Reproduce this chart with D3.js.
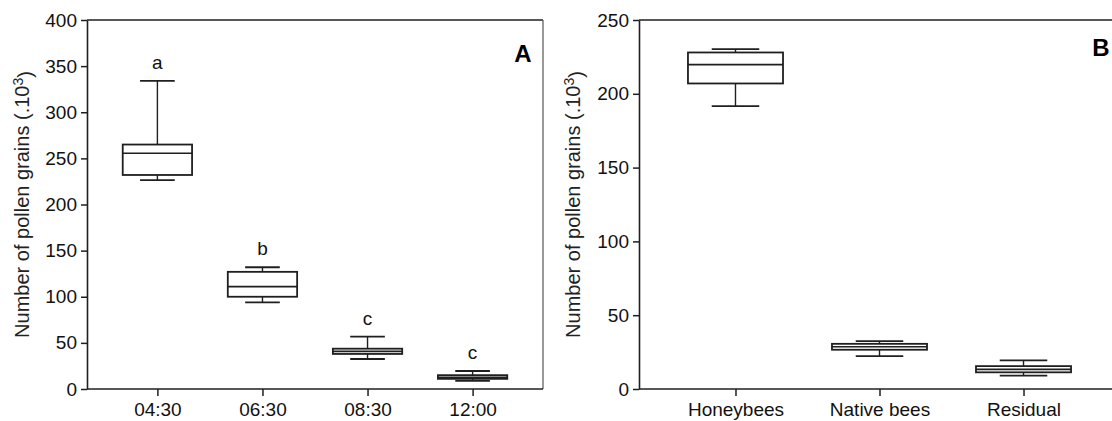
<!DOCTYPE html>
<html>
<head>
<meta charset="utf-8">
<script src="https://cdn.jsdelivr.net/npm/d3@7"></script>
<style>
  body { margin: 0; background: #fff; }
  svg { display: block; font-family: "Liberation Sans", Arial, sans-serif; }
</style>
</head>
<body>
<div class="canvas"></div>
<script>
// panel A - pollen grains by sampling time
const timesA = ["04:30", "06:30", "08:30", "12:00"];
const lowA = [226.5, 94, 32.5, 8.7];
const q1A = [232, 100, 38, 11];
const medA = [255.5, 111, 40.8, 12.6];
const q3A = [265, 127, 43.7, 15];
const highA = [334, 132, 56.7, 19.5];
const lettersA = ["a", "b", "c", "c"];
const ticksA = [0, 50, 100, 150, 200, 250, 300, 350, 400];

// panel B - pollen grains by visitor group
const groupsB = ["Honeybees", "Native bees", "Residual"];
const lowB = [191.7, 22.3, 9];
const q1B = [207, 26.6, 11.3];
const medB = [219.8, 28.6, 13.3];
const q3B = [228, 30.6, 15.5];
const highB = [230.2, 32.4, 19.4];
const ticksB = [0, 50, 100, 150, 200, 250];

const ink = "#1f1f1f";

const svg = d3.select(".canvas").append("svg")
  .attr("width", 1112)
  .attr("height", 421);

function drawPanel(p) {
  const x = d3.scalePoint().domain(p.cats).range([p.x0, p.x1]).padding(0.67);
  const y = d3.scaleLinear().domain([0, p.max]).range([389, 20]);
  const step = x.step();
  const boxW = step * 0.66;
  const capW = step * 0.33;

  const data = p.cats.map((c, i) => ({
    cat: c, low: p.low[i], q1: p.q1[i], med: p.med[i], q3: p.q3[i], high: p.high[i],
    letter: p.letters ? p.letters[i] : null
  }));

  const g = svg.append("g");

  // frame
  g.append("line").attr("x1", p.x0).attr("x2", p.x1).attr("y1", 20).attr("y2", 20)
    .attr("stroke", ink).attr("stroke-width", 1.6);
  g.append("line").attr("x1", p.x1).attr("x2", p.x1).attr("y1", 20).attr("y2", 389)
    .attr("stroke", "#555").attr("stroke-width", 1.2);

  // axes
  const yAxis = g.append("g").attr("transform", `translate(${p.x0},0)`)
    .call(d3.axisLeft(y).tickValues(p.ticks).tickSize(6).tickPadding(4).tickSizeOuter(0));
  const xAxis = g.append("g").attr("transform", "translate(0,389)")
    .call(d3.axisBottom(x).tickSize(7).tickPadding(7).tickSizeOuter(0));
  xAxis.select(".domain").attr("d", `M${p.x0},0H${p.x1}`);
  [yAxis, xAxis].forEach(a => {
    a.select(".domain").attr("stroke", ink).attr("stroke-width", 1.6);
    a.selectAll(".tick line").attr("stroke", ink).attr("stroke-width", 1.5);
    a.selectAll("text").attr("fill", "#111").style("font-size", "19px")
      .style("font-family", "'Liberation Sans', Arial, sans-serif");
  });

  // boxes
  const box = g.selectAll(".box").data(data).enter().append("g").attr("class", "box");
  box.append("line")
    .attr("x1", d => x(d.cat)).attr("x2", d => x(d.cat))
    .attr("y1", d => y(d.high)).attr("y2", d => y(d.q3))
    .attr("stroke", ink).attr("stroke-width", 1.4);
  box.append("line")
    .attr("x1", d => x(d.cat)).attr("x2", d => x(d.cat))
    .attr("y1", d => y(d.q1)).attr("y2", d => y(d.low))
    .attr("stroke", ink).attr("stroke-width", 1.4);
  box.append("line")
    .attr("x1", d => x(d.cat) - capW / 2).attr("x2", d => x(d.cat) + capW / 2)
    .attr("y1", d => y(d.high)).attr("y2", d => y(d.high))
    .attr("stroke", ink).attr("stroke-width", 1.8);
  box.append("line")
    .attr("x1", d => x(d.cat) - capW / 2).attr("x2", d => x(d.cat) + capW / 2)
    .attr("y1", d => y(d.low)).attr("y2", d => y(d.low))
    .attr("stroke", ink).attr("stroke-width", 1.8);
  box.append("rect")
    .attr("x", d => x(d.cat) - boxW / 2)
    .attr("width", boxW)
    .attr("y", d => y(d.q3))
    .attr("height", d => y(d.q1) - y(d.q3))
    .attr("fill", "#fff")
    .attr("stroke", ink).attr("stroke-width", 1.8);
  box.append("line")
    .attr("x1", d => x(d.cat) - boxW / 2).attr("x2", d => x(d.cat) + boxW / 2)
    .attr("y1", d => y(d.med)).attr("y2", d => y(d.med))
    .attr("stroke", ink).attr("stroke-width", 1.6);

  // significance letters
  if (p.letters) {
    box.append("text")
      .attr("x", d => x(d.cat))
      .attr("y", d => y(d.high) - 12)
      .attr("text-anchor", "middle")
      .attr("fill", "#111")
      .style("font-size", "19px")
      .text(d => d.letter);
  }

  // y title
  const title = g.append("text")
    .attr("transform", `translate(${p.titleX},${(20 + 389) / 2}) rotate(-90)`)
    .attr("text-anchor", "middle")
    .attr("fill", "#222")
    .style("font-size", "20px");
  title.append("tspan").text("Number of pollen grains (.10");
  title.append("tspan").attr("dy", "-0.45em").style("font-size", "14px").text("3");
  title.append("tspan").attr("dy", "0.45em").text(")");

  // panel letter
  g.append("text")
    .attr("x", p.tagX).attr("y", p.tagY)
    .attr("text-anchor", "middle")
    .attr("fill", "#000")
    .style("font-size", "24px").style("font-weight", "bold")
    .text(p.tag);
}

drawPanel({
  cats: timesA, low: lowA, q1: q1A, med: medA, q3: q3A, high: highA,
  letters: lettersA, ticks: ticksA, max: 400,
  x0: 87, x1: 543, titleX: 29, tag: "A", tagX: 523, tagY: 62
});

drawPanel({
  cats: groupsB, low: lowB, q1: q1B, med: medB, q3: q3B, high: highB,
  letters: null, ticks: ticksB, max: 250,
  x0: 639, x1: 1120, titleX: 580, tag: "B", tagX: 1101, tagY: 56
});
</script>
</body>
</html>
